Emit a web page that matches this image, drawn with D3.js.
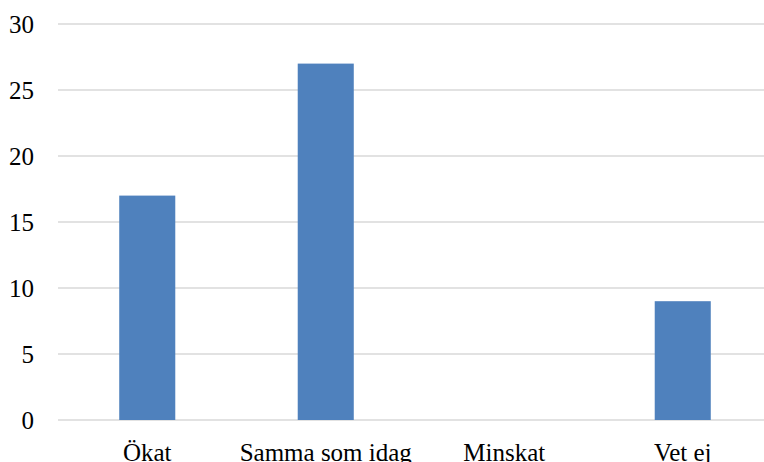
<!DOCTYPE html>
<html>
<head>
<meta charset="utf-8">
<script src="https://cdn.jsdelivr.net/npm/d3@7"></script>
<style>
  html, body { margin: 0; padding: 0; background: #fff; }
  svg { display: block; }
  text { font-family: "Liberation Serif", "DejaVu Serif", serif; fill: #000; }
</style>
</head>
<body>
<svg id="chart" width="764" height="462"></svg>
<script>
const categories = ["Ökat", "Samma som idag", "Minskat", "Vet ej"];
const values = [17, 27, 0, 9];
const yTicks = [0, 5, 10, 15, 20, 25, 30];

const svg = d3.select("#chart");
const plot = { left: 58, right: 772, top: 24, bottom: 420 };
const fontSize = 25;

const x = d3.scaleBand()
  .domain(categories)
  .range([plot.left, plot.right])
  .paddingInner(0.686)
  .paddingOuter(0.343);

const y = d3.scaleLinear().domain([0, 30]).range([plot.bottom, plot.top]);

// horizontal gridlines
svg.append("g")
  .selectAll("line")
  .data(yTicks)
  .join("line")
  .attr("x1", plot.left)
  .attr("x2", 764)
  .attr("y1", d => y(d))
  .attr("y2", d => y(d))
  .attr("stroke", "#d9d9d9")
  .attr("stroke-width", 1.5);

// bars
svg.append("g")
  .selectAll("rect")
  .data(categories.map((c, i) => ({ c, v: values[i] })))
  .join("rect")
  .attr("x", d => x(d.c))
  .attr("width", x.bandwidth())
  .attr("y", d => y(d.v))
  .attr("height", d => y(0) - y(d.v))
  .attr("fill", "#4f81bd");

// y axis labels
const yAxis = svg.append("g")
  .attr("transform", `translate(${plot.left - 24},0)`)
  .call(d3.axisLeft(y).tickValues(yTicks).tickSize(0).tickPadding(0));
yAxis.select(".domain").remove();
yAxis.selectAll("text")
  .attr("font-size", fontSize)
  .attr("font-family", "'Liberation Serif', serif");

// x axis labels (baseline sits at the bottom edge)
const xAxis = svg.append("g")
  .attr("transform", `translate(0,${plot.bottom})`)
  .call(d3.axisBottom(x).tickSize(0));
xAxis.select(".domain").remove();
xAxis.selectAll("text")
  .attr("y", 41)
  .attr("dy", null)
  .attr("font-size", fontSize)
  .attr("font-family", "'Liberation Serif', serif");
</script>
</body>
</html>
